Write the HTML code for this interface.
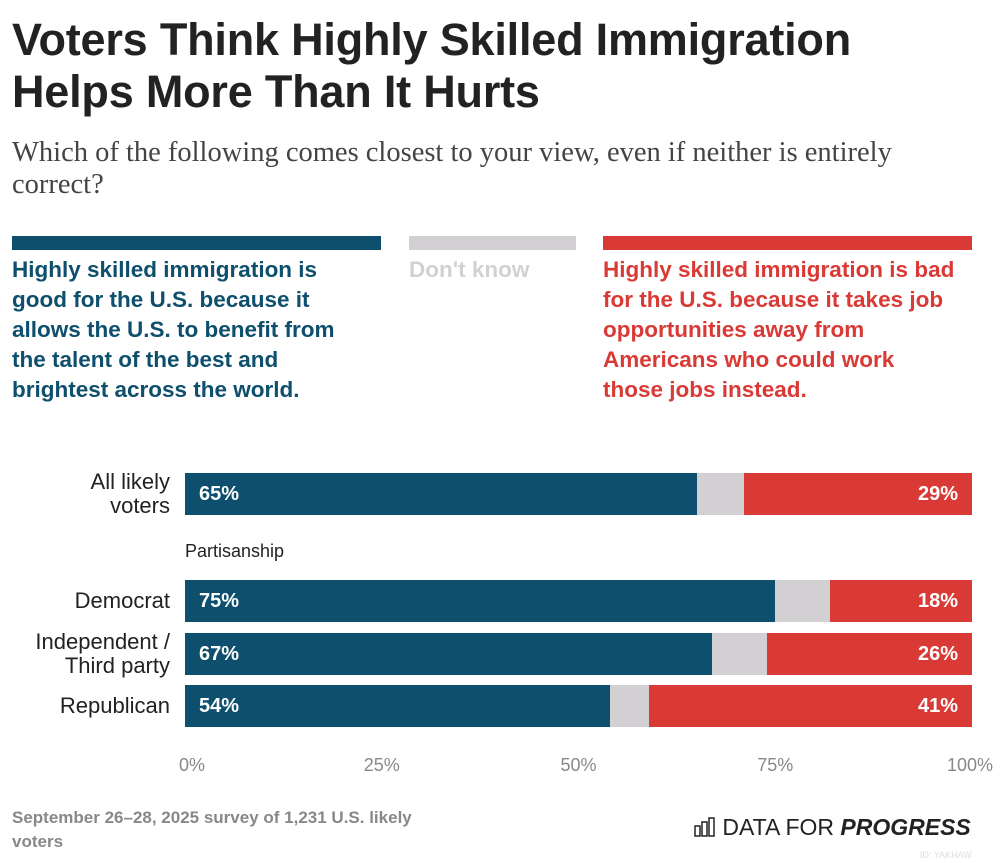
<!DOCTYPE html>
<html><head><meta charset="utf-8"><style>
body{margin:0;width:1000px;height:863px;background:#fff;font-family:"Liberation Sans",sans-serif;position:relative;overflow:hidden}
.a{position:absolute}
h1{position:absolute;left:12px;top:14px;margin:0;font-size:45px;line-height:52px;font-weight:bold;color:#222;letter-spacing:-0.2px}
.sub{left:12px;top:137px;font-family:"Liberation Serif",serif;font-size:28.5px;line-height:32px;color:#444;width:960px;white-space:nowrap}
.leg{font-size:22.5px;font-weight:bold;line-height:30px;white-space:nowrap}
.lbl{font-size:22px;color:#222;text-align:right;width:160px;left:10px;line-height:24px}
.tick{font-size:18px;color:#888;top:755px;transform:translateX(-50%)}
.val{font-size:20px;font-weight:bold;color:#fff}
</style></head><body>
<h1>Voters Think Highly Skilled Immigration<br>Helps More Than It Hurts</h1>
<div class="a sub">Which of the following comes closest to your view, even if neither is entirely<br>correct?</div>
<div class="a" style="left:12px;top:236px;width:369px;height:14px;background:#0d4f6c"></div>
<div class="a" style="left:409px;top:236px;width:167px;height:14px;background:#d3d0d3"></div>
<div class="a" style="left:603px;top:236px;width:369px;height:14px;background:#d93a36"></div>
<div class="a leg" style="left:12px;top:255px;color:#0d4f6c">Highly skilled immigration is<br>good for the U.S. because it<br>allows the U.S. to benefit from<br>the talent of the best and<br>brightest across the world.</div>
<div class="a leg" style="left:409px;top:255px;color:#d3d0d3">Don't know</div>
<div class="a leg" style="left:603px;top:255px;color:#d93a36">Highly skilled immigration is bad<br>for the U.S. because it takes job<br>opportunities away from<br>Americans who could work<br>those jobs instead.</div>
<div class="a" style="left:185px;top:541px;font-size:18px;color:#222">Partisanship</div>
<div id="chart"></div>
<div class="a" style="left:12px;top:806px;font-size:17px;color:#888;font-weight:bold;width:450px;line-height:24px">September 26–28, 2025 survey of 1,231 U.S. likely voters</div>
<div class="a" style="left:694px;top:814px;font-size:23px;color:#222;white-space:nowrap"><svg width="22" height="20" style="vertical-align:-2px"><g fill="none" stroke="#222" stroke-width="1.5"><rect x="1" y="9" width="5" height="10"/><rect x="8" y="5" width="5" height="14"/><rect x="15" y="1" width="5" height="18"/></g></svg> DATA FOR <b><i>PROGRESS</i></b></div>
<div class="a" style="left:920px;top:850px;font-size:9px;color:#ddd">ID: YAKHAW</div>
<script>
const categories=["All likely voters","Democrat","Independent / Third party","Republican"];
const labelsHtml=["All likely<br>voters","Democrat","Independent /<br>Third party","Republican"];
const good=[65,75,67,54];
const dontKnow=[6,7,7,5];
const bad=[29,18,26,41];
const ticks=[0,25,50,75,100];
const x0=185,x1=972,rowTop=[473,580,633,685],bh=42;
const xs=v=>x0+(x1-x0)*v/100;
const c=document.getElementById('chart');
function mk(css,name){const d=document.createElement('div');d.className='a';d.style.cssText=css;


c.appendChild(d);return d;}
categories.forEach((cat,i)=>{
 const y=rowTop[i];
 mk(`left:${xs(0)}px;top:${y}px;width:${xs(good[i])-xs(0)}px;height:${bh}px;background:#0d4f6c`,'bar-good');
 mk(`left:${xs(good[i])}px;top:${y}px;width:${xs(good[i]+dontKnow[i])-xs(good[i])}px;height:${bh}px;background:#d3d0d3`,'bar-dont-know');
 mk(`left:${xs(100-bad[i])}px;top:${y}px;width:${xs(100)-xs(100-bad[i])}px;height:${bh}px;background:#d93a36`,'bar-bad');
 const v1=mk(`left:${xs(0)+14}px;top:${y+10}px`,'value-good');v1.classList.add('val');v1.textContent=good[i]+'%';
 const v2=mk(`right:${1000-xs(100)+14}px;top:${y+10}px`,'value-bad');v2.classList.add('val');v2.textContent=bad[i]+'%';
 const two=labelsHtml[i].includes('<br>');
 const l=mk(`top:${y+(two?-3:9)}px`,'category-label');l.classList.add('lbl');l.innerHTML=labelsHtml[i];
});
ticks.forEach(t=>{const d=mk(`left:${xs(t)+(t==0?7:t==100?-2:0)}px`,'x-tick-label');d.classList.add('tick');d.textContent=t+'%';});
</script>
</body></html>
